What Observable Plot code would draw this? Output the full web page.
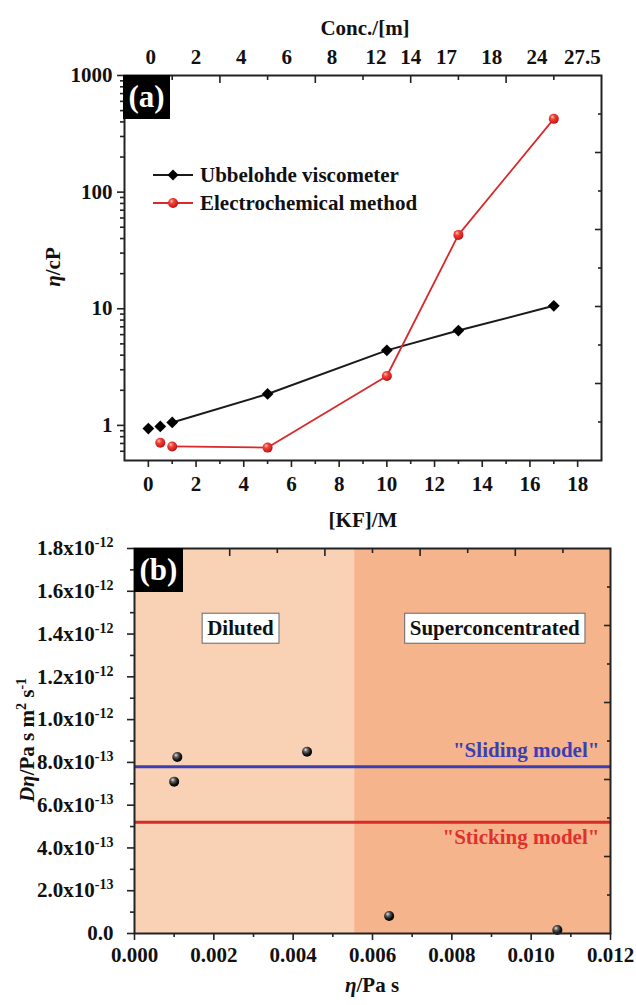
<!DOCTYPE html>
<html><head><meta charset="utf-8">
<script src="https://cdn.jsdelivr.net/npm/d3@7"></script>
<script src="https://cdn.jsdelivr.net/npm/@observablehq/plot@0.6"></script>
<style>
body{margin:0;background:#fff;}
#wrap{position:relative;width:636px;height:1005px;font-family:"Liberation Serif","Times New Roman",serif;font-weight:bold;color:#111;overflow:hidden;}
#wrap > svg{position:absolute;left:0;}
.ov{position:absolute;white-space:nowrap;font-size:21px;line-height:1;transform:translate(-50%,-50%);}
.rot{transform:translate(-50%,-50%) rotate(-90deg);}
.tag{position:absolute;background:#000;color:#fff;font-size:31px;line-height:44px;text-align:center;}
.leg{position:absolute;left:153px;font-size:21px;line-height:1;display:flex;align-items:center;white-space:nowrap;}
.leg svg{margin-right:7px;flex:none;}
sup{font-size:14px;vertical-align:0;position:relative;top:-8px;}
</style></head><body><div id="wrap"></div>
<script>
// ---------- Panel (a) data ----------
const kfUbb  = [0, 0.5, 1, 5, 10, 13, 17];
const etaUbb = [0.94, 0.98, 1.06, 1.86, 4.4, 6.5, 10.6];
const kfEC   = [0.5, 1, 5, 10, 13, 17];
const etaEC  = [0.71, 0.66, 0.645, 2.65, 43, 425];
const seriesNames = ["Ubbelohde viscometer", "Electrochemical method"];
const xTicksA = [0, 2, 4, 6, 8, 10, 12, 14, 16, 18];
const xMinorA = [1, 3, 5, 7, 9, 11, 13, 15, 17];
const yTicksA = [1, 10, 100, 1000];
const yMinorA = [0.6,0.7,0.8,0.9, 2,3,4,5,6,7,8,9, 20,30,40,50,60,70,80,90, 200,300,400,500,600,700,800,900];
const concLabels = ["0", "2", "4", "6", "8", "12", "14", "17", "18", "24", "27.5"];
const concAtKF   = [0.1, 2.0, 3.9, 5.8, 7.7, 9.55, 11.0, 12.5, 14.4, 16.3, 18.2];

// ---------- Panel (b) data ----------
const etaPas = [0.00100, 0.00108, 0.00435, 0.00642, 0.01066];
const dEta   = [7.1e-13, 8.25e-13, 8.5e-13, 0.82e-13, 0.16e-13];
const modelNames  = ["\"Sliding model\"", "\"Sticking model\""];
const modelValues = [7.8e-13, 5.2e-13];
const regimeNames = ["Diluted", "Superconcentrated"];
const regimeStart = [0, 0.00555];
const regimeEnd   = [0.00555, 0.012];
const xTicksB = [0, 0.002, 0.004, 0.006, 0.008, 0.010, 0.012];
const xMinorB = [0.001, 0.003, 0.005, 0.007, 0.009, 0.011];
const yTicksB = [0, 2e-13, 4e-13, 6e-13, 8e-13, 1e-12, 1.2e-12, 1.4e-12, 1.6e-12, 1.8e-12];
const yMinorB = [1e-13, 3e-13, 5e-13, 7e-13, 9e-13, 1.1e-12, 1.3e-12, 1.5e-12, 1.7e-12];

const COL = {ink: "#1a1a1a", red: "#d8292b", blue: "#3a3fb5", redTxt: "#e0302c",
  light: "#f9d2b6", dark: "#f5b48c"};
const STYLE = {fontFamily: '"Liberation Serif","Times New Roman",serif', fontSize: "21px",
  fontWeight: "bold", color: "#111", background: "transparent", overflow: "visible"};

const wrap = document.getElementById("wrap");
const NS = "http://www.w3.org/2000/svg";

// ---------- Panel (a) ----------
const ubb = kfUbb.map((x, i) => ({x, y: etaUbb[i]}));
const ec  = kfEC.map((x, i) => ({x, y: etaEC[i]}));
const xDomA = [-1, 19], yDomA = [0.5, 1000];
// secondary (Origin-style) top/right ticks: 10 equal divisions of the frame
const topA = d3.range(1, 10).map(k => xDomA[0] + k * (xDomA[1] - xDomA[0]) / 10);
const rightA = d3.range(1, 10).map(k => yDomA[0] * Math.pow(yDomA[1] / yDomA[0], k / 10));
const evenK = (arr) => arr.filter((d, i) => i % 2 === 1);
const oddK  = (arr) => arr.filter((d, i) => i % 2 === 0);
const tk = {stroke: "#222", strokeWidth: 1.6, fill: "none", label: null};

const plotA = Plot.plot({
  width: 636, height: 530, marginTop: 75, marginRight: 35, marginBottom: 70, marginLeft: 124,
  style: STYLE,
  x: {domain: xDomA, label: null},
  y: {type: "log", domain: yDomA, label: null},
  marks: [
    Plot.axisX({ticks: xTicksA, tickSize: 7, tickPadding: 9, label: null, tickFormat: d => String(d), stroke: "#222", strokeWidth: 1.6}),
    Plot.axisX({...tk, ticks: xMinorA, tickSize: 4}),
    Plot.axisY({ticks: yTicksA, tickSize: 7, tickPadding: 5, label: null, tickFormat: d => String(d), stroke: "#222", strokeWidth: 1.6}),
    Plot.axisY({...tk, ticks: yMinorA, tickSize: 4}),
    Plot.axisX({...tk, anchor: "top", ticks: evenK(topA), tickSize: 7, dy: 7}),
    Plot.axisX({...tk, anchor: "top", ticks: oddK(topA), tickSize: 4, dy: 4}),
    Plot.axisY({...tk, anchor: "right", ticks: evenK(rightA), tickSize: 7, dx: -7}),
    Plot.axisY({...tk, anchor: "right", ticks: oddK(rightA), tickSize: 4, dx: -4}),
    Plot.text(concLabels, {x: (d, i) => concAtKF[i], text: d => d, frameAnchor: "top", dy: -18, lineAnchor: "middle"}),
    Plot.line(ubb.filter(d => d.x >= 1), {x: "x", y: "y", stroke: COL.ink, strokeWidth: 2}),
    Plot.line(ec.filter(d => d.x >= 1), {x: "x", y: "y", stroke: COL.red, strokeWidth: 1.8}),
    Plot.dot(ubb, {x: "x", y: "y", symbol: "diamond2", r: 5.3, fill: "#000", stroke: "none"}),
    Plot.dot(ec, {x: "x", y: "y", r: 5, fill: "url(#redBall)", stroke: "none"}),
    Plot.frame({stroke: "#222", strokeWidth: 2})
  ]
});
plotA.style.top = "0px";
wrap.appendChild(plotA);

// gradients for the shaded balls
const defs = document.createElementNS(NS, "defs");
defs.innerHTML = `
<radialGradient id="redBall" cx="0.42" cy="0.38" r="0.65" fx="0.35" fy="0.3">
  <stop offset="0" stop-color="#ffc4b8"/><stop offset="0.35" stop-color="#f04438"/>
  <stop offset="0.8" stop-color="#d21e1e"/><stop offset="1" stop-color="#a01010"/></radialGradient>
<radialGradient id="blackBall" cx="0.42" cy="0.38" r="0.65" fx="0.35" fy="0.3">
  <stop offset="0" stop-color="#e8e8e8"/><stop offset="0.3" stop-color="#666"/>
  <stop offset="0.7" stop-color="#111"/><stop offset="1" stop-color="#000"/></radialGradient>`;
plotA.insertBefore(defs, plotA.firstChild);

// ---------- Panel (b) ----------
const pts = etaPas.map((x, i) => ({x, y: dEta[i]}));
const xDomB = [0, 0.012], yDomB = [0, 1.8e-12];
const topB = d3.range(1, 10).map(k => xDomB[1] * k / 10);
const rightB = d3.range(1, 10).map(k => yDomB[1] * k / 10);
const regimeColors = [COL.light, COL.dark];
const fmtY = d => {
  if (d === 0) return "0.0";
  const [m, e] = d.toExponential(1).split("e");
  return `${m}x10^${+e}`;
};

const plotB = Plot.plot({
  width: 636, height: 475, marginTop: 18, marginRight: 26, marginBottom: 72, marginLeft: 134,
  style: STYLE,
  x: {domain: xDomB, label: null},
  y: {domain: yDomB, label: null},
  color: {type: "identity"},
  marks: [
    Plot.rect(regimeNames, {x1: (d, i) => regimeStart[i], x2: (d, i) => regimeEnd[i], fill: (d, i) => regimeColors[i]}),
    Plot.ruleY([modelValues[0]], {stroke: COL.blue, strokeWidth: 3}),
    Plot.ruleY([modelValues[1]], {stroke: COL.red, strokeWidth: 3}),
    Plot.text([modelNames[0]], {x: 0.01172, y: 8.56e-13, textAnchor: "end", fill: COL.blue, lineAnchor: "middle"}),
    Plot.text([modelNames[1]], {x: 0.01172, y: 4.49e-13, textAnchor: "end", fill: COL.redTxt, lineAnchor: "middle"}),
    Plot.text([regimeNames[0]], {x: 0.00267, y: 1.426e-12, lineAnchor: "middle", fill: "#111"}),
    Plot.text([regimeNames[1]], {x: 0.00908, y: 1.426e-12, lineAnchor: "middle", fill: "#111"}),
    Plot.dot(pts, {x: "x", y: "y", r: 5, fill: "url(#blackBall)", stroke: "none"}),
    Plot.axisX({ticks: xTicksB, tickSize: 7, tickPadding: 7, label: null, tickFormat: d => d.toFixed(3), stroke: "#222", strokeWidth: 1.6}),
    Plot.axisX({...tk, ticks: xMinorB, tickSize: 4}),
    Plot.axisY({ticks: yTicksB, tickSize: 7, tickPadding: 14, label: null, tickFormat: fmtY, stroke: "#222", strokeWidth: 1.6}),
    Plot.axisY({...tk, ticks: yMinorB, tickSize: 4}),
    Plot.axisX({...tk, anchor: "top", ticks: evenK(topB), tickSize: 7, dy: 7}),
    Plot.axisX({...tk, anchor: "top", ticks: oddK(topB), tickSize: 4, dy: 4}),
    Plot.axisY({...tk, anchor: "right", ticks: evenK(rightB), tickSize: 7, dx: -7}),
    Plot.axisY({...tk, anchor: "right", ticks: oddK(rightB), tickSize: 4, dx: -4}),
    Plot.frame({stroke: "#222", strokeWidth: 2})
  ]
});
plotB.style.top = "530px";
wrap.appendChild(plotB);

// superscript exponents on the y tick labels of panel (b); boxes behind the regime labels
plotB.querySelectorAll("text").forEach(t => {
  const s = t.textContent;
  if (s.includes("x10^")) {
    const [base, exp] = s.split("^");
    t.textContent = "";
    const a = document.createElementNS(NS, "tspan"); a.textContent = base;
    const b = document.createElementNS(NS, "tspan"); b.textContent = exp;
    b.setAttribute("font-size", "14"); b.setAttribute("dy", "-8");
    t.appendChild(a); t.appendChild(b);
  }
  if (regimeNames.includes(s)) {
    const bb = t.getBBox();
    const r = document.createElementNS(NS, "rect");
    const px = 5, py = 3;
    r.setAttribute("x", bb.x - px); r.setAttribute("y", bb.y - py);
    r.setAttribute("width", bb.width + 2 * px); r.setAttribute("height", bb.height + 2 * py);
    r.setAttribute("fill", "#fff"); r.setAttribute("stroke", "#666"); r.setAttribute("stroke-width", "1");
    const tr = t.getAttribute("transform");
    if (tr) r.setAttribute("transform", tr);
    t.parentNode.insertBefore(r, t);
  }
});

// ---------- overlays: titles, panel tags, legend ----------
function ov(html, x, y, cls = "") {
  const d = document.createElement("div");
  d.className = "ov " + cls; d.innerHTML = html;
  d.style.left = x + "px"; d.style.top = y + "px";
  wrap.appendChild(d);
}
ov("Conc./[m]", 365, 28);
ov("[KF]/M", 363, 520);
ov("<i>η</i>/cP", 53, 267, "rot");
ov("<i>η</i>/Pa s", 372, 985);
ov("<i>Dη</i>/Pa s m<sup>2</sup> s<sup>-1</sup>", 27, 740, "rot");

function tag(txt, x, y, w, h) {
  const d = document.createElement("div");
  d.className = "tag"; d.textContent = txt;
  Object.assign(d.style, {left: x + "px", top: y + "px", width: w + "px", height: h + "px"});
  wrap.appendChild(d);
}
tag("(a)", 123, 75, 47, 44);
tag("(b)", 134, 548, 49, 44);

const legSw = [
  `<svg width="40" height="14"><line x1="0" y1="7" x2="40" y2="7" stroke="${COL.ink}" stroke-width="2"/><path d="M20,1.5L25.5,7L20,12.5L14.5,7Z" fill="#000"/></svg>`,
  `<svg width="40" height="14"><line x1="0" y1="7" x2="40" y2="7" stroke="${COL.red}" stroke-width="1.8"/><circle cx="20" cy="7" r="5" fill="url(#redBall)"/></svg>`
];
[175, 203].forEach((y, i) => {
  const d = document.createElement("div");
  d.className = "leg"; d.style.top = (y - 10) + "px"; d.style.height = "20px";
  d.innerHTML = legSw[i] + `<span>${seriesNames[i]}</span>`;
  wrap.appendChild(d);
});
</script></body></html>
